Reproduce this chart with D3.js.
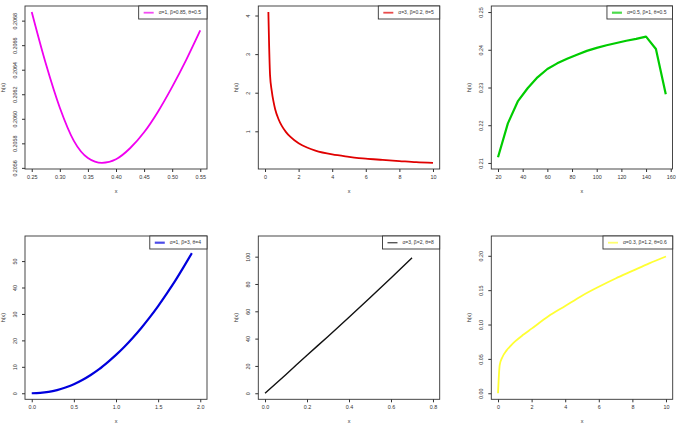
<!DOCTYPE html>
<html>
<head>
<meta charset="utf-8">
<script src="https://cdn.jsdelivr.net/npm/d3@7"></script>
<style>
  body { margin: 0; background: #fff; }
  svg { font-family: "Liberation Sans", Arial, sans-serif; }
  .tick text { fill: #333; }
  .tick line { stroke: #333; }
</style>
</head>
<body>
<div id="chart"></div>
<script>
const svgWidth = 678;
const svgHeight = 423;

// panel 1
const p1x = [0.25, 0.275, 0.30, 0.325, 0.35, 0.375, 0.40, 0.425, 0.45, 0.475, 0.50, 0.525, 0.55];
const p1h = [0.20687, 0.20645, 0.20609, 0.20582, 0.20568, 0.20564, 0.20567, 0.20576, 0.20589, 0.20606, 0.20626, 0.20648, 0.20672];
// panel 2
const p2x = [0.2, 0.3, 0.4, 0.5, 0.6, 0.8, 1, 1.25, 1.5, 2, 2.5, 3, 4, 5, 6, 7, 8, 9, 10];
const p2h = [4.09, 2.45, 2.05, 1.78, 1.58, 1.32, 1.14, 0.98, 0.86, 0.69, 0.58, 0.50, 0.40, 0.34, 0.29, 0.26, 0.23, 0.20, 0.18];
// panel 3
const p3x = [20, 28, 36, 44, 52, 60, 68, 76, 84, 92, 100, 108, 116, 124, 132, 140, 148, 156];
const p3h = [0.2115, 0.2205, 0.2263, 0.2298, 0.2327, 0.2349, 0.2364, 0.2376, 0.2387, 0.2397, 0.2405, 0.2412, 0.2418, 0.2424, 0.2429, 0.2435, 0.2402, 0.2282];
// panel 4
const p4x = [0, 0.1, 0.2, 0.3, 0.4, 0.5, 0.6, 0.7, 0.8, 0.9, 1.0, 1.1, 1.2, 1.3, 1.4, 1.5, 1.6, 1.7, 1.8, 1.9];
const p4h = [0, 0.12, 0.5, 1.2, 2.2, 3.4, 5.0, 6.9, 9.1, 11.7, 14.5, 17.6, 21.0, 24.7, 28.7, 33.0, 37.6, 42.4, 47.6, 53.0];
// panel 5
const p5x = [0, 0.1, 0.2, 0.3, 0.4, 0.5, 0.6, 0.7];
const p5h = [0, 13.8, 27.8, 41.6, 55.6, 69.9, 84.4, 99.2];
// panel 6
const p6x = [0, 0.1, 0.25, 0.5, 0.75, 1, 1.5, 2, 3, 4, 5, 6, 7, 8, 9, 10];
const p6h = [0, 0.041, 0.052, 0.062, 0.069, 0.075, 0.085, 0.094, 0.112, 0.127, 0.142, 0.155, 0.167, 0.178, 0.189, 0.199];

const legends = ["α=1, β=0.85, θ=0.5", "α=3, β=0.2, θ=5", "α=0.5, β=1, θ=0.5",
                 "α=1, β=3, θ=4", "α=3, β=2, θ=8", "α=0.3, β=1.2, θ=0.6"];

const xticks = [
  [0.25, 0.30, 0.35, 0.40, 0.45, 0.50, 0.55],
  [0, 2, 4, 6, 8, 10],
  [20, 40, 60, 80, 100, 120, 140, 160],
  [0.0, 0.5, 1.0, 1.5, 2.0],
  [0.0, 0.2, 0.4, 0.6, 0.8],
  [0, 2, 4, 6, 8, 10]
];
const yticks = [
  [0.2056, 0.2058, 0.2060, 0.2062, 0.2064, 0.2066, 0.2068],
  [1, 2, 3, 4],
  [0.21, 0.22, 0.23, 0.24, 0.25],
  [0, 10, 20, 30, 40, 50],
  [0, 20, 40, 60, 80, 100],
  [0.00, 0.05, 0.10, 0.15, 0.20]
];

let panels = [
  { xs: p1x, ys: p1h, left: 25, top: 6, w: 182, h: 163, color: "#f000f0", lw: 1.8, xlim: null, ylim: null, xf: ".2f", yf: ".4f", curve: d3.curveMonotoneX },
  { xs: p2x, ys: p2h, left: 258.3, top: 6, w: 181.4, h: 163, color: "#e00000", lw: 1.8, xlim: [0, 10], ylim: null, xf: "d", yf: "d", curve: d3.curveMonotoneX },
  { xs: p3x, ys: p3h, left: 491.3, top: 6, w: 181.2, h: 163, color: "#00cc00", lw: 2.2, xlim: null, ylim: [0.21, 0.25], xf: "d", yf: ".2f", curve: d3.curveLinear },
  { xs: p4x, ys: p4h, left: 25, top: 236, w: 182, h: 163.3, color: "#0000dd", lw: 2.2, xlim: [0, 2], ylim: [0, 57.2], xf: ".1f", yf: "d", curve: d3.curveMonotoneX },
  { xs: p5x, ys: p5h, left: 258.3, top: 236, w: 181.4, h: 163.3, color: "#111", lw: 1.4, xlim: [0, 0.8], ylim: [0, 110.7], xf: ".1f", yf: "d", curve: d3.curveMonotoneX },
  { xs: p6x, ys: p6h, left: 491.3, top: 236, w: 181.4, h: 163.3, color: "#ffff33", lw: 1.8, xlim: [0, 10], ylim: [0, 0.22], xf: "d", yf: ".2f", curve: d3.curveMonotoneX }
];

let svg = d3.select("#chart").append("svg").attr("width", svgWidth).attr("height", svgHeight);

// R style: range extended by 4%
let pad = lim => {
  let d = (lim[1] - lim[0]) * 0.04;
  return [lim[0] - d, lim[1] + d];
};

panels.forEach((p, i) => {
  let g = svg.append("g").attr("transform", `translate(${p.left}, ${p.top})`);
  let xlin = d3.scaleLinear().domain(pad(p.xlim || d3.extent(p.xs))).range([0, p.w]);
  let ylin = d3.scaleLinear().domain(pad(p.ylim || d3.extent(p.ys))).range([p.h, 0]);

  let xAxis = g.append("g")
    .attr("transform", `translate(0, ${p.h})`)
    .call(d3.axisBottom(xlin).tickValues(xticks[i]).tickFormat(d3.format(p.xf)).tickSize(3).tickPadding(3));
  xAxis.select(".domain").remove();
  xAxis.selectAll("text").attr("font-size", 5.4);

  let yAxis = g.append("g")
    .call(d3.axisLeft(ylin).tickValues(yticks[i]).tickFormat(d3.format(p.yf)).tickSize(3));
  yAxis.select(".domain").remove();
  yAxis.selectAll("text")
    .attr("font-size", 5.4)
    .attr("transform", "rotate(-90)")
    .attr("x", 0)
    .attr("y", -8)
    .attr("dy", 0)
    .attr("text-anchor", "middle");

  let data = p.xs.map((x, k) => [x, p.ys[k]]);
  g.append("path")
    .datum(data)
    .attr("fill", "none")
    .attr("stroke", p.color)
    .attr("stroke-width", p.lw)
    .attr("stroke-linejoin", "round")
    .attr("d", d3.line().x(d => xlin(d[0])).y(d => ylin(d[1])).curve(p.curve));

  g.append("rect")
    .attr("width", p.w).attr("height", p.h)
    .attr("fill", "none").attr("stroke", "#333").attr("stroke-width", 0.9);

  // axis titles
  g.append("text")
    .attr("x", p.w / 2).attr("y", p.h + 24)
    .attr("text-anchor", "middle").attr("font-size", 5.4).attr("fill", "#333")
    .text("x");
  g.append("text")
    .attr("transform", `translate(-20, ${p.h / 2}) rotate(-90)`)
    .attr("text-anchor", "middle").attr("font-size", 5.4).attr("fill", "#333")
    .text("h(x)");

  // legend
  let lg = g.append("g");
  let lbox = lg.append("rect").attr("fill", "#fff").attr("stroke", "#333").attr("stroke-width", 0.9);
  let ltxt = lg.append("text").attr("font-size", 5).attr("fill", "#333").attr("y", 8.4).text(legends[i]);
  let tw = ltxt.node().getComputedTextLength();
  let lw = tw + 26;
  lg.attr("transform", `translate(${p.w - lw}, 0)`);
  lbox.attr("width", lw).attr("height", 13);
  ltxt.attr("x", 20);
  lg.append("line")
    .attr("x1", 5).attr("x2", 15).attr("y1", 6.7).attr("y2", 6.7)
    .attr("stroke", p.color).attr("stroke-width", p.lw).attr("opacity", 0.7);
});
</script>
</body>
</html>
